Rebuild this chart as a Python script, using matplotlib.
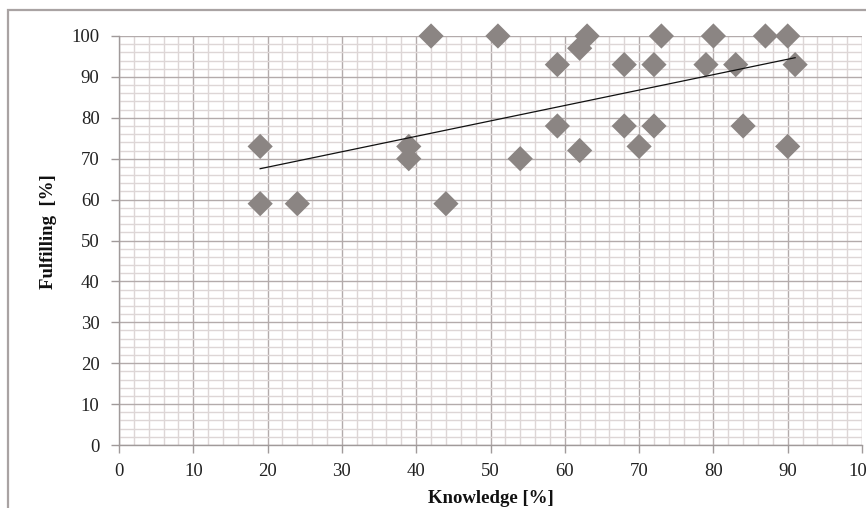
import numpy as np
import matplotlib
matplotlib.use("Agg")
import matplotlib.pyplot as plt
from matplotlib.patches import Rectangle
from matplotlib.ticker import MultipleLocator

# Data
knowledge = [19, 19, 24, 39, 39, 42, 44, 51, 54, 59, 59, 62, 62, 63, 68, 68, 70,
             72, 72, 73, 79, 80, 83, 84, 87, 90, 90, 91]
fulfilling = [73, 59, 59, 73, 70, 100, 59, 100, 70, 93, 78, 97, 72, 100, 93, 78, 73,
              93, 78, 100, 93, 100, 93, 78, 100, 100, 73, 93]
x_ticks = [0, 10, 20, 30, 40, 50, 60, 70, 80, 90, 100]
y_ticks = [0, 10, 20, 30, 40, 50, 60, 70, 80, 90, 100]

plt.rcParams['font.family'] = ['Liberation Serif', 'DejaVu Serif']

W, H = 866, 508
fig = plt.figure(figsize=(W / 100, H / 100), dpi=100)
fig.patch.set_facecolor('white')

# outer chart frame (cropped at right/bottom)
fig.patches.append(Rectangle((8 / W, -0.2), 2.0, 1 - 10 / H + 0.2,
                             transform=fig.transFigure, fill=False,
                             edgecolor='#a9a3a3', linewidth=1.6, zorder=0))

ax = fig.add_axes([119 / W, 1 - 445 / H, 743 / W, 409 / H])
ax.set_xlim(0, 100)
ax.set_ylim(0, 100)
ax.set_xticks(x_ticks)
ax.set_yticks(y_ticks)
ax.xaxis.set_minor_locator(MultipleLocator(2))
ax.yaxis.set_minor_locator(MultipleLocator(2))

ax.grid(which='minor', color='#ddd6d6', linewidth=1.0, zorder=0)
ax.grid(which='major', color='#b3abab', linewidth=1.0, zorder=0)
ax.set_axisbelow(True)

for s in ['top', 'right']:
    ax.spines[s].set_visible(False)
for s in ['left', 'bottom']:
    ax.spines[s].set_color('#a09a9a')
    ax.spines[s].set_linewidth(1.0)

ax.tick_params(which='major', direction='out', length=6, width=1.0,
               color='#a09a9a', labelsize=13.5, labelcolor='#222222')
ax.tick_params(axis='y', which='major', pad=8)
ax.tick_params(axis='x', which='major', pad=7)
ax.tick_params(which='minor', length=0)

ax.scatter(knowledge, fulfilling, marker='D', s=165, color='#8b8583',
           edgecolors='none', zorder=3, clip_on=False)

coef = np.polyfit(knowledge, fulfilling, 1)
xs = np.array([min(knowledge), max(knowledge)])
ax.plot(xs, np.polyval(coef, xs), color='#111111', linewidth=0.9, zorder=4)

ax.set_xlabel('Knowledge [%]', fontsize=13.5, fontweight='bold', labelpad=7.5,
              color='#111111')
ax.set_ylabel('Fulfilling  [%]', fontsize=13.5, fontweight='bold',
              color='#111111')
ax.yaxis.set_label_coords(-0.083, 0.521)

fig.savefig('out.png', dpi=100)
